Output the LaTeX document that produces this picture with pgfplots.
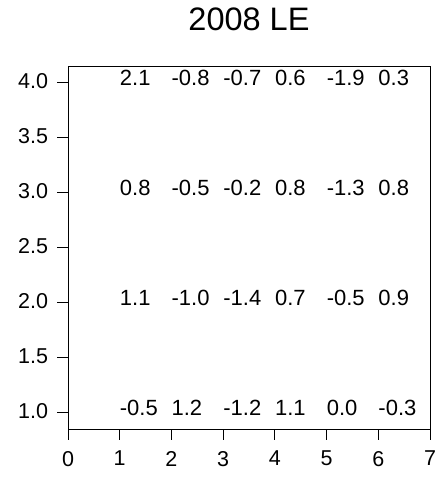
\documentclass[border=0pt]{standalone}
\usepackage{pgfplots}
\pgfplotsset{compat=1.18}
\usepackage{fontspec}
\setmainfont{Liberation Sans}
\begin{document}
\begin{tikzpicture}
\path (-68pt,-48pt) rectangle (375pt,429pt);
\begin{axis}[
  at={(0,0)}, anchor=south west,
  scale only axis, width=362pt, height=363pt,
  xmin=0, xmax=7, ymin=0.845, ymax=4.145,
  xtick={0,1,2,3,4,5,6,7},
  ytick={1,1.5,2,2.5,3,3.5,4},
  yticklabel style={/pgf/number format/fixed, /pgf/number format/fixed zerofill, /pgf/number format/precision=1, xshift=-6pt, yshift=1pt},
  /pgf/number format/assume math mode=true,
  xtick pos=bottom, ytick pos=left,
  tick align=outside,
  major tick length=10.5pt,
  tick style={black, line width=0.9pt},
  axis line style={line width=0.9pt},
  ticklabel style={font=\fontsize{21.5}{24}\selectfont},
  xticklabel style={yshift=-8pt},
  title={2008 LE},
  title style={font=\fontsize{32.5}{36}\selectfont, at={(0.5,1)}, anchor=base, yshift=30pt},
]
\addplot[draw=none, mark=none, nodes near coords, point meta=explicit symbolic,
  nodes near coords style={anchor=west, inner sep=0pt, text height=0.72em, text depth=0pt, yshift=0.5pt, font=\fontsize{22}{24}\selectfont}]
  table[meta=label] {
x y label
1 4 2.1
2 4 -0.8
3 4 -0.7
4 4 0.6
5 4 -1.9
6 4 0.3
1 3 0.8
2 3 -0.5
3 3 -0.2
4 3 0.8
5 3 -1.3
6 3 0.8
1 2 1.1
2 2 -1.0
3 2 -1.4
4 2 0.7
5 2 -0.5
6 2 0.9
1 1 -0.5
2 1 1.2
3 1 -1.2
4 1 1.1
5 1 0.0
6 1 -0.3
};
\end{axis}
\end{tikzpicture}
\end{document}
